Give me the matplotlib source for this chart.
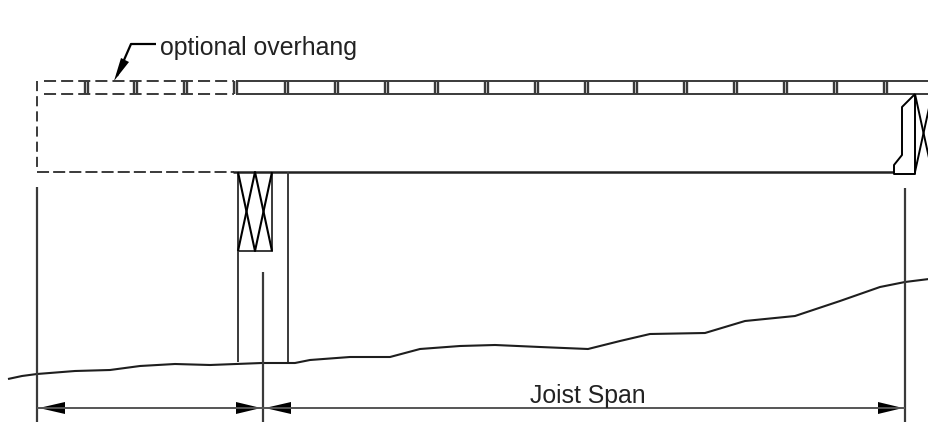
########## Joist span detail ##########
import matplotlib
matplotlib.use("Agg")
import matplotlib.pyplot as plt

plt.rcParams['font.family'] = ['Liberation Sans', 'DejaVu Sans']

########## Geometry (pixels) ##########
deck_top    = 81
deck_bottom = 94
beam_bottom = 173
dashed_webs = [87, 136, 186]
solid_webs  = [236, 287, 337, 387, 437, 487, 537, 587, 636, 686, 736, 786, 836, 886]

ground_x = [8, 22, 37, 75, 110, 140, 175, 210, 262, 295, 310, 350, 390, 420, 460, 495,
            540, 588, 620, 650, 705, 745, 795, 840, 880, 905, 929]
ground_y = [379, 376, 374, 371, 370, 366, 364, 365, 363, 363, 360, 357, 357, 349, 346, 345,
            347, 349, 341, 334, 333, 321, 316, 301, 287, 282, 279]

break_x = [915, 902, 902, 894, 894, 915, 915]
break_y = [94, 107, 155, 165, 174, 174, 94]

ink = '#3a3a3a'
lw  = 1.4

fig = plt.figure(figsize=(9.29, 4.36), dpi=100)
ax = fig.add_axes([0, 0, 1, 1])
ax.set_xlim(0, 929)
ax.set_ylim(436, 0)
ax.axis('off')


def seg(x, y, **kw):
    kw.setdefault('color', ink)
    kw.setdefault('lw', lw)
    ax.plot(x, y, solid_capstyle='butt', **kw)


def dash(x, y, on=6.2, off=2.6):
    ax.plot(x, y, color=ink, lw=lw, linestyle=(0, (on, off)), dash_capstyle='butt')


def web(x, **kw):
    seg([x - 2, x - 2], [deck_top, deck_bottom], **kw)
    seg([x + 1, x + 1], [deck_top, deck_bottom], **kw)


def arrow(tip, base, y):
    ax.fill([tip, base, base], [y, y - 6, y + 6], color='black', lw=0)


########## Overhang (dashed) ##########
dash([44, 234], [deck_top, deck_top])
dash([44, 234], [deck_bottom, deck_bottom])
dash([37, 37], [81, 170], on=5.2, off=2.6)
dash([37, 234], [beam_bottom - 1, beam_bottom - 1], on=6.2, off=2.1)
for x in dashed_webs:
    web(x, lw=1.7)

########## Joist chords and webs ##########
seg([236, 929], [deck_top, deck_top])
seg([236, 929], [deck_bottom, deck_bottom])
for x in solid_webs:
    web(x, lw=1.7)
seg([233, 894], [beam_bottom - 1, beam_bottom - 1], lw=1.8, color='#222222')

########## Bearing block ##########
seg([238, 238], [172, 362])
seg([288, 288], [172, 362])
seg([272, 272], [172, 252])
seg([238, 272], [251, 251])
seg([238, 255, 272], [172, 251, 172], color='black', lw=1.5)
seg([238, 255, 272], [251, 172, 251], color='black', lw=1.5)

########## Joist break at right ##########
seg(break_x, break_y, color='black', lw=1.4)
seg([915, 929], [94, 158], color='black', lw=1.4)
seg([915, 929], [172, 108], color='black', lw=1.4)

########## Ground line ##########
seg(ground_x, ground_y, color='#1e1e1e', lw=1.5)

########## Dimension lines ##########
seg([37, 37], [187, 422], lw=1.6)
seg([263, 263], [272, 422], lw=1.6)
seg([905, 905], [188, 422], lw=1.6)
seg([37, 905], [408, 408], lw=1.4, color='#555555')
arrow(39, 65, 408)
arrow(261, 236, 408)
arrow(265, 291, 408)
arrow(903, 878, 408)

########## Labels ##########
seg([156, 131, 117], [44, 44, 76], lw=1.6, color='black')
ax.fill([114, 121, 129], [81, 58, 62], color='black', lw=0)
ax.text(160, 48, 'optional overhang', fontsize=17.9, color='#222222', ha='left', va='center')
ax.text(588, 396, 'Joist Span', fontsize=17.9, color='#222222', ha='center', va='center')

fig.savefig('out.png', dpi=100)
